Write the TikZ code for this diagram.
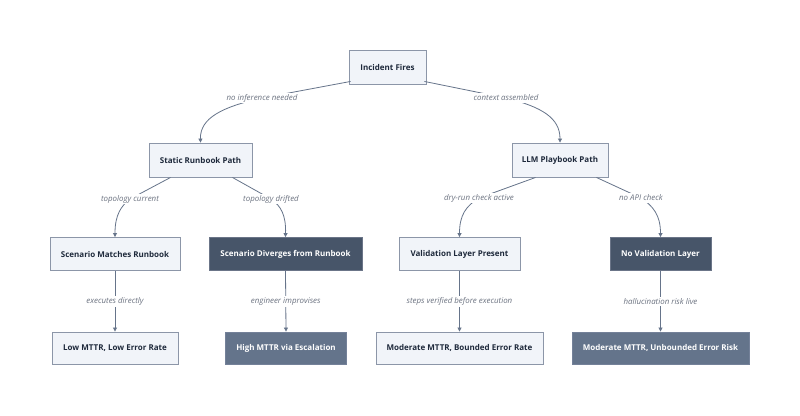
\documentclass[tikz,border=0pt]{standalone}
\usepackage{fontspec}
\setmainfont{Open Sans}
\usetikzlibrary{arrows.meta}
\definecolor{lightfill}{HTML}{F1F4F9}
\definecolor{lightdraw}{HTML}{8C96A8}
\definecolor{darkfill}{HTML}{475569}
\definecolor{darkdraw}{HTML}{6B7588}
\definecolor{midfill}{HTML}{64748B}
\definecolor{middraw}{HTML}{748199}
\definecolor{textdark}{HTML}{1E293B}
\definecolor{edgecol}{HTML}{66748A}
\definecolor{lblcol}{HTML}{6B7280}
\tikzset{
  x=1pt,y=-1pt,
  box/.style={rectangle,draw=lightdraw,fill=lightfill,line width=0.9pt,
    text=textdark,font=\fontsize{8}{9.5}\selectfont\bfseries,
    inner sep=0pt,minimum height=33pt},
  darkbox/.style={box,draw=darkdraw,fill=darkfill,text=white},
  midbox/.style={box,draw=middraw,fill=midfill,text=white},
  edge/.style={draw=edgecol,line width=0.8pt,-{Triangle[length=4pt,width=4pt]}},
  lbl/.style={fill=white,text=lblcol,font=\fontsize{7.9}{9.5}\selectfont\itshape,
    inner sep=1.5pt}
}
\begin{document}
\begin{tikzpicture}
\useasboundingbox (0,0) rectangle (800,415);
\fill[white] (0,0) rectangle (800,415);
% nodes
\node[box,minimum width=77pt,minimum height=34pt] (inc) at (387.5,67) {Incident Fires};
\node[box,minimum width=103pt,minimum height=34pt] (srp) at (200.5,160) {Static Runbook Path};
\node[box,minimum width=96pt,minimum height=34pt] (llm) at (560,160) {LLM Playbook Path};
\node[box,minimum width=130pt] (smr) at (115,254) {Scenario Matches Runbook};
\node[darkbox,minimum width=153pt] (sdr) at (285.5,254) {Scenario Diverges from Runbook};
\node[box,minimum width=121pt] (vlp) at (459.5,254) {Validation Layer Present};
\node[darkbox,minimum width=101pt] (nvl) at (660.5,254) {No Validation Layer};
\node[box,minimum width=126pt,minimum height=32pt] (low) at (115,348) {Low MTTR, Low Error Rate};
\node[midbox,minimum width=121pt,minimum height=32pt] (high) at (286,348) {High MTTR via Escalation};
\node[box,minimum width=167pt,minimum height=32pt] (mbr) at (459.5,348) {Moderate MTTR, Bounded Error Rate};
\node[midbox,minimum width=177pt,minimum height=32pt] (mur) at (660.5,348) {Moderate MTTR, Unbounded Error Risk};
% label points
\coordinate (l1) at (262,98);
\coordinate (l2) at (506,98);
\coordinate (l3) at (130,199);
\coordinate (l4) at (271,199);
\coordinate (l5) at (479,198);
\coordinate (l6) at (641,198);
% edges
\draw[edge] ([xshift=2pt,yshift=3pt]inc.south west) -- (l1)
  .. controls (222,107) and (200,118) .. (srp.north);
\node[lbl] at (l1) {no inference needed};
\draw[edge] ([xshift=-2pt,yshift=3pt]inc.south east) -- (l2)
  .. controls (542,107) and (560,118) .. (llm.north);
\node[lbl] at (l2) {context assembled};
\draw[edge] ([xshift=22pt]srp.south west) -- (l3)
  .. controls (121,206) and (115,215) .. (smr.north);
\node[lbl] at (l3) {topology current};
\draw[edge] ([xshift=-20pt]srp.south east) -- (l4)
  .. controls (281,206) and (286,215) .. (sdr.north);
\node[lbl] at (l4) {topology drifted};
\draw[edge] ([xshift=24pt]llm.south west) -- (l5)
  .. controls (466,206) and (459.5,215) .. (vlp.north);
\node[lbl] at (l5) {dry-run check active};
\draw[edge] ([xshift=-12pt]llm.south east) -- (l6)
  .. controls (653,206) and (660.5,215) .. (nvl.north);
\node[lbl] at (l6) {no API check};
\draw[edge] (smr.south) -- node[lbl,pos=0.5]{executes directly} (low.north);
\draw[edge] (sdr.south) -- node[lbl,pos=0.5]{engineer improvises} (high.north);
\draw[edge] (vlp.south) -- node[lbl,pos=0.5]{steps verified before execution} (mbr.north);
\draw[edge] (nvl.south) -- node[lbl,pos=0.5]{hallucination risk live} (mur.north);
\end{tikzpicture}
\end{document}
